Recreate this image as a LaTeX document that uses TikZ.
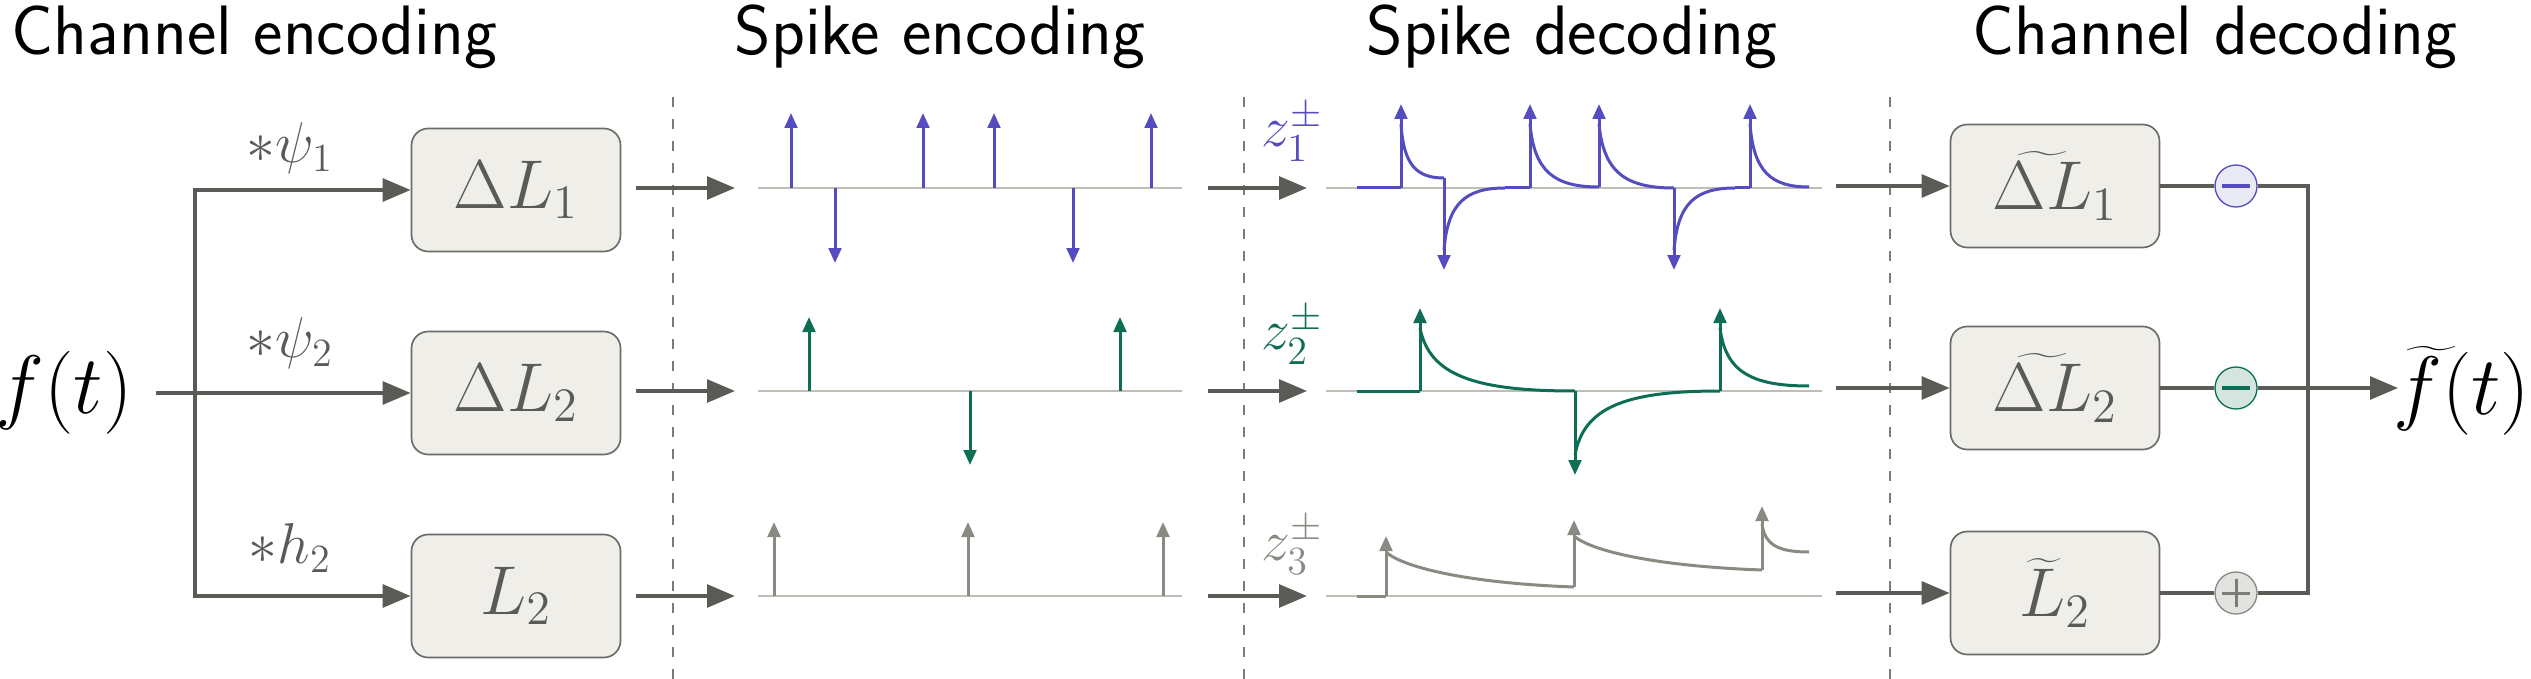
\documentclass[tikz,border=0pt]{standalone}
\usepackage{tikz}
\usetikzlibrary{arrows.meta}
\definecolor{cpurple}{RGB}{84,76,191}
\definecolor{cgreen}{RGB}{14,110,85}
\definecolor{cgrey}{RGB}{138,138,130}
\definecolor{cdark}{RGB}{90,90,87}
\definecolor{cbox}{RGB}{240,238,232}
\definecolor{cbase}{RGB}{190,190,182}
\tikzset{
  blk/.style={draw=cdark!90,fill=cbox,rounded corners=5pt,line width=0.5pt,minimum width=62.7pt,minimum height=36.9pt,text=cdark,font=\fontsize{20}{24}\selectfont},
  flow/.style={cdark,line width=1.2pt,-{Triangle[length=8.4pt,width=6.8pt]}},
  wire/.style={cdark,line width=1.2pt},
  sep/.style={cdark!80,line width=0.6pt,dash pattern=on 3pt off 3.6pt},
  base/.style={cbase,line width=0.45pt},
  spk/.style={line width=0.9pt,-{Triangle[length=4.5pt,width=3.8pt]}},
  trace/.style={line width=0.9pt},
  title/.style={anchor=base,font=\sffamily\fontsize{21}{25}\selectfont},
  lab/.style={font=\fontsize{18}{22}\selectfont},
  sgn/.style={circle,draw,line width=0.4pt,minimum size=12.6pt,inner sep=0pt},
}
% decaying trace between two levels
\newcommand{\dcy}[5]{\draw[trace,#5] (#1,#2) .. controls ({#1+0.06*(#3-#1)},{#2+0.75*(#4-#2)}) and ({#1+0.35*(#3-#1)},#4) .. (#3,#4);}
% slow decay
\newcommand{\sdcy}[5]{\draw[trace,#5] (#1,#2) .. controls ({#1+0.08*(#3-#1)},{#2+0.4*(#4-#2)}) and ({#1+0.4*(#3-#1)},{#4-0.12*(#4-#2)}) .. (#3,#4);}
\begin{document}
\begin{tikzpicture}[x=0.3pt,y=0.3pt,yscale=-1]
\useasboundingbox (0,0) rectangle (2531,679);

% titles
\node[title,anchor=base west] (t1) at (0,55) {Channel encoding};
\node[title] (t2) at (940,55) {Spike encoding};
\node[title] (t3) at (1572,55) {Spike decoding};
\node[title] (t4) at (2215,55) {Channel decoding};

% separators
\foreach \xs in {673,1244,1890}
  \draw[sep] (\xs,97) -- (\xs,679);

% channel encoding
\node[font=\fontsize{26}{30}\selectfont] (f) at (64,393) {$f(t)$};
\node[blk] (enc1) at (516,190) {$\Delta L_1$};
\node[blk] (enc2) at (516,393) {$\Delta L_2$};
\node[blk] (enc3) at (516,596) {$L_2$};
\coordinate (br) at (195,393);
\draw[wire] (156,393) -- (br);
\draw[flow] (br) |- (enc1);
\draw[flow] (br) -- (enc2);
\draw[flow] (br) |- (enc3);
\node[lab,text=cdark] (k1) at (290,148) {$*\psi_1$};
\node[lab,text=cdark] (k2) at (290,343) {$*\psi_2$};
\node[lab,text=cdark] (k3) at (290,548) {$*h_2$};

% spike encoding
\foreach \yy in {188,391,596}{
  \draw[base] (758,\yy) -- (1182,\yy);
  \draw[base] (1326,\yy) -- (1822,\yy);
}
\draw[flow] (636,188) -- (735,188);
\draw[flow] (636,391) -- (735,391);
\draw[flow] (636,596) -- (735,596);
\foreach \xs in {791,923,994,1151} \draw[spk,cpurple] (\xs,188) -- (\xs,113);
\foreach \xs in {835,1073} \draw[spk,cpurple] (\xs,188) -- (\xs,263);
\foreach \xs in {809,1120} \draw[spk,cgreen] (\xs,391) -- (\xs,317);
\draw[spk,cgreen] (970,391) -- (970,465);
\foreach \xs in {774,968,1163} \draw[spk,cgrey] (\xs,596) -- (\xs,522);

% spike decoding
\draw[flow] (1208,188) -- (1307,188);
\draw[flow] (1208,391) -- (1307,391);
\draw[flow] (1208,596) -- (1307,596);
\node[lab,text=cpurple] (z1) at (1292,132) {$z_1^{\pm}$};
\node[lab,text=cgreen] (z2) at (1292,335) {$z_2^{\pm}$};
\node[lab,text=cgrey] (z3) at (1292,545) {$z_3^{\pm}$};

% row 1
\draw[trace,cpurple] (1357,188) -- (1401,188);
\draw[spk,cpurple] (1401,188) -- (1401,104);
\dcy{1401}{124}{1444}{178}{cpurple}
\draw[spk,cpurple] (1444,178) -- (1444,270);
\dcy{1444}{250}{1505}{188}{cpurple}
\draw[trace,cpurple] (1505,188) -- (1530,188);
\draw[spk,cpurple] (1530,188) -- (1530,104);
\dcy{1530}{124}{1599}{187}{cpurple}
\draw[spk,cpurple] (1599,187) -- (1599,104);
\dcy{1599}{124}{1674}{188}{cpurple}
\draw[spk,cpurple] (1674,188) -- (1674,270);
\dcy{1674}{250}{1735}{188}{cpurple}
\draw[trace,cpurple] (1735,188) -- (1750,188);
\draw[spk,cpurple] (1750,188) -- (1750,104);
\dcy{1750}{124}{1809}{187}{cpurple}

% row 2
\draw[trace,cgreen] (1357,391) -- (1420,391);
\draw[spk,cgreen] (1420,391) -- (1420,308);
\dcy{1420}{328}{1575}{391}{cgreen}
\draw[spk,cgreen] (1575,391) -- (1575,475);
\dcy{1575}{455}{1720}{391}{cgreen}
\draw[spk,cgreen] (1720,391) -- (1720,308);
\dcy{1720}{328}{1809}{386}{cgreen}

% row 3
\draw[trace,cgrey] (1357,596) -- (1386,596);
\draw[spk,cgrey] (1386,596) -- (1386,536);
\sdcy{1386}{552}{1574}{587}{cgrey}
\draw[spk,cgrey] (1574,587) -- (1574,520);
\sdcy{1574}{536}{1762}{570}{cgrey}
\draw[spk,cgrey] (1762,570) -- (1762,506);
\dcy{1762}{524}{1809}{552}{cgrey}

% channel decoding
\node[blk] (dec1) at (2055,186) {$\widetilde{\Delta L}_1$};
\node[blk] (dec2) at (2055,388) {$\widetilde{\Delta L}_2$};
\node[blk] (dec3) at (2055,593) {$\widetilde{L}_2$};
\draw[flow] (1836,186) -- (dec1);
\draw[flow] (1836,388) -- (dec2);
\draw[flow] (1836,593) -- (dec3);
\node[sgn,draw=cpurple,fill=cpurple!12] (s1) at (2236,186) {};
\node[sgn,draw=cgreen,fill=cgreen!18!white] (s2) at (2236,388) {};
\node[sgn,draw=cgrey,fill=cgrey!25] (s3) at (2236,593) {};
\draw[cpurple,line width=1.3pt] (2222,186) -- (2250,186);
\draw[cgreen,line width=1.3pt] (2222,388) -- (2250,388);
\draw[cgrey!90!black,line width=0.9pt] (2222,593) -- (2250,593) (2236,579) -- (2236,607);
\node[anchor=east,inner sep=0pt,font=\fontsize{25}{30}\selectfont] (fo) at (2531,391) {$\widetilde{f}(t)$};
\coordinate (j) at (2308,388);
\draw[wire] (dec1) -- (s1);
\draw[wire] (dec2) -- (s2);
\draw[wire] (dec3) -- (s3);
\draw[wire] (s1) -| (j) |- (s3);
\draw[flow] (s2) -- (2398,388);
\end{tikzpicture}
\end{document}
